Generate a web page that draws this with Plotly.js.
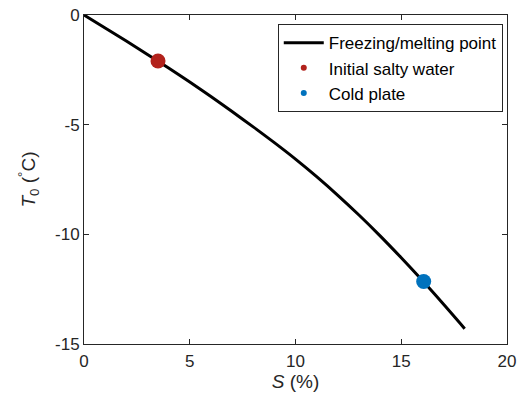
<!DOCTYPE html>
<html>
<head>
<meta charset="utf-8">
<script src="https://cdn.plot.ly/plotly-3.0.1.min.js"></script>
<style>
  html, body { margin: 0; padding: 0; background: #fff; }
  #chart { width: 519px; height: 401px; }
</style>
</head>
<body>
<div id="chart"></div>
<script>
// Freezing/melting point of salty water against salinity
const salinity = [0, 1, 2, 3, 4, 5, 6, 7, 8, 9, 10, 11, 12, 13, 14, 15, 16, 17, 18];
const freezingT = [0, -0.59, -1.19, -1.80, -2.42, -3.06, -3.72, -4.40, -5.10, -5.82,
                   -6.57, -7.37, -8.22, -9.12, -10.07, -11.07, -12.11, -13.19, -14.30];

// Marked states
const initialS = [3.5];
const initialT = [-2.1];
const plateS = [16.06];
const plateT = [-12.15];

const labels = ['Freezing/melting point', 'Initial salty water', 'Cold plate'];
const xTicks = [0, 5, 10, 15, 20];
const xTickText = ['0', '5', '10', '15', '20'];
const yTicks = [-15, -10, -5, 0];
const yTickText = ['-15', '-10', '-5', '0'];

const red = '#B2221C';
const blue = '#0072BD';
const font = 'Liberation Sans, Arial, Helvetica, sans-serif';

const traces = [
  { x: salinity, y: freezingT, mode: 'lines', name: labels[0],
    line: { color: '#000', width: 3, shape: 'spline', smoothing: 0.8 }, hoverinfo: 'skip' },
  // large dots on the curve
  { x: initialS, y: initialT, mode: 'markers', showlegend: false,
    marker: { color: red, size: 15 } },
  { x: plateS, y: plateT, mode: 'markers', showlegend: false,
    marker: { color: blue, size: 15 } },
  // legend entries with small dots
  { x: [null], y: [null], mode: 'markers', name: labels[1],
    marker: { color: red, size: 6 } },
  { x: [null], y: [null], mode: 'markers', name: labels[2],
    marker: { color: blue, size: 6 } }
];

const axisCommon = {
  showgrid: false, zeroline: false,
  showline: true, linecolor: '#262626', linewidth: 1,
  mirror: 'ticks', ticks: 'inside', ticklen: 5, tickcolor: '#262626',
  tickfont: { family: font, size: 17, color: '#262626' }
};

const layout = {
  width: 519, height: 401,
  margin: { l: 84, r: 12, t: 15, b: 57 },
  paper_bgcolor: '#fff', plot_bgcolor: '#fff',
  showlegend: true,
  legend: {
    x: 0.99, y: 0.972, xanchor: 'right', yanchor: 'top',
    bordercolor: '#262626', borderwidth: 1, bgcolor: '#fff',
    font: { family: font, size: 17, color: '#000' },
    tracegroupgap: 0, itemwidth: 40
  },
  xaxis: Object.assign({}, axisCommon, {
    range: [0, 20], tickvals: xTicks, ticktext: xTickText, ticklabelstandoff: 2,
    title: { text: '<i>S</i> (%)', font: { family: font, size: 19, color: '#262626' }, standoff: 2 }
  }),
  yaxis: Object.assign({}, axisCommon, {
    range: [-15, 0], tickvals: yTicks, ticktext: yTickText,
    title: { text: '<i>T</i><sub>0</sub> (<sup>°</sup>C)', font: { family: font, size: 19, color: '#262626' }, standoff: 14 }
  })
};

Plotly.newPlot('chart', traces, layout, { displayModeBar: false, staticPlot: true });
</script>
</body>
</html>
